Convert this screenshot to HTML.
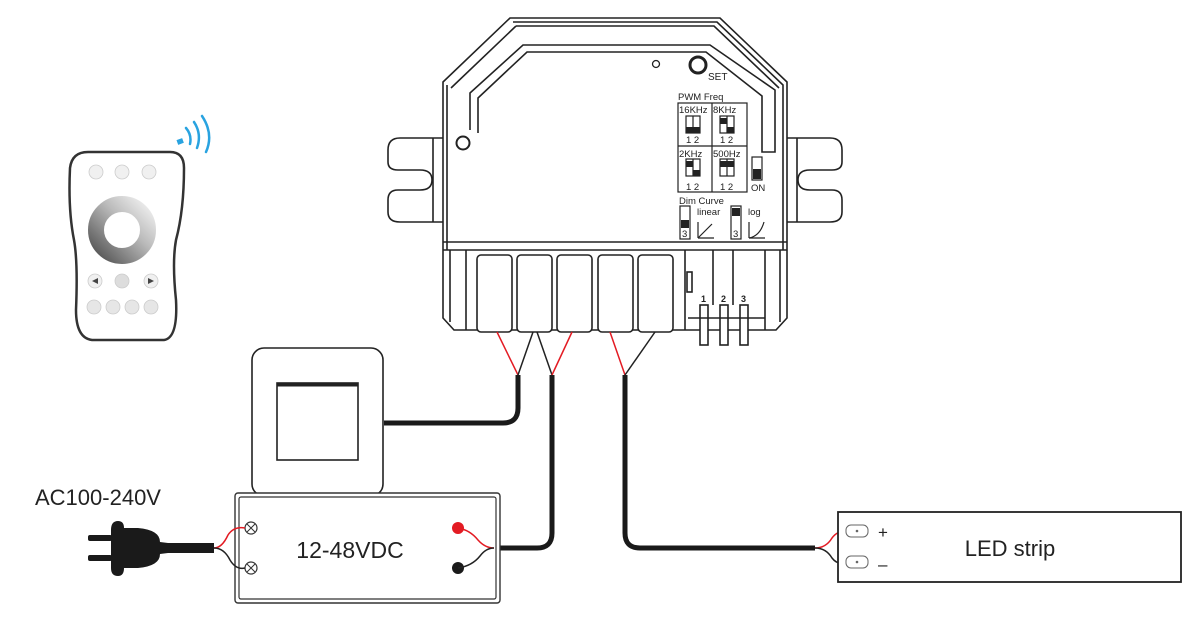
<!DOCTYPE html>
<html><head><meta charset="utf-8"><style>
html,body{margin:0;padding:0;background:#fff;}
svg{display:block;}
text{font-family:"Liberation Sans",sans-serif;}
</style></head><body>
<svg width="1200" height="643" viewBox="0 0 1200 643" xmlns="http://www.w3.org/2000/svg">
<defs>
<linearGradient id="ring" x1="0" y1="1" x2="1" y2="0"><stop offset="0" stop-color="#555"/><stop offset="0.6" stop-color="#bbb"/><stop offset="1" stop-color="#eee"/></linearGradient>
</defs>
<!-- ears -->
<g fill="#fff" stroke="#222" stroke-width="1.6">
<path d="M443 138 H400 Q388 138 388 150 V162 Q388 170 398 170 H420 Q432 170 432 180 Q432 190 420 190 H398 Q388 190 388 200 V212 Q388 222 400 222 H443"/>
<line x1="433" y1="138" x2="433" y2="222"/>
<path d="M787 138 H830 Q842 138 842 150 V162 Q842 170 832 170 H810 Q798 170 798 180 Q798 190 810 190 H832 Q842 190 842 200 V212 Q842 222 830 222 H787"/>
<line x1="797" y1="138" x2="797" y2="222"/>
</g>
<!-- body -->
<g fill="none" stroke="#222" stroke-width="1.6">
<path d="M510 18 H720 L787 82 V318 L776 330 H454 L443 318 V82 Z" fill="#fff"/>
<path d="M513 22 H717 L783 85 V250 M447 250 V85 Z" />
<path d="M516 26 H714 L779 88"/>
<path d="M516 26 L451 88"/>
<path d="M470 130 V93 L523 45 H710 L775 90 V152 H762 V96 L706 52 H527 L478 98 V133"/>
<line x1="443" y1="242" x2="787" y2="242"/>
<line x1="443" y1="250" x2="787" y2="250"/>
<line x1="450" y1="250" x2="450" y2="322"/>
<line x1="466" y1="250" x2="466" y2="330"/>
<line x1="780" y1="250" x2="780" y2="322"/>
<line x1="765" y1="250" x2="765" y2="330"/>
<line x1="685" y1="250" x2="685" y2="330"/>
<line x1="713" y1="250" x2="713" y2="305"/>
<line x1="733" y1="250" x2="733" y2="305"/>
<rect x="687" y="272" width="5" height="20"/>
</g>
<circle cx="463" cy="143" r="6.5" fill="#fff" stroke="#222" stroke-width="2"/>
<circle cx="656" cy="64" r="3.5" fill="none" stroke="#222" stroke-width="1.3"/>
<circle cx="698" cy="65" r="8" fill="#fff" stroke="#222" stroke-width="3"/>
<text x="708" y="80" font-size="10" fill="#222">SET</text>
<!-- terminal blocks -->
<g fill="#fff" stroke="#222" stroke-width="1.6">
<rect x="477" y="255" width="35" height="77" rx="4"/>
<rect x="517" y="255" width="35" height="77" rx="4"/>
<rect x="557" y="255" width="35" height="77" rx="4"/>
<rect x="598" y="255" width="35" height="77" rx="4"/>
<rect x="638" y="255" width="35" height="77" rx="4"/>
<rect x="700" y="305" width="8" height="40"/>
<rect x="720" y="305" width="8" height="40"/>
<rect x="740" y="305" width="8" height="40"/>
<line x1="688" y1="318" x2="765" y2="318"/>
</g>
<text x="701" y="302" font-size="9" font-weight="bold" fill="#222">1</text>
<text x="721" y="302" font-size="9" font-weight="bold" fill="#222">2</text>
<text x="741" y="302" font-size="9" font-weight="bold" fill="#222">3</text>
<!-- DIP -->
<text x="678" y="100" font-size="9.5" fill="#222">PWM Freq</text>
<g fill="none" stroke="#222" stroke-width="1.2">
<rect x="678" y="103" width="69" height="89"/>
<line x1="712" y1="103" x2="712" y2="192"/>
<line x1="678" y1="146" x2="747" y2="146"/>
<rect x="686" y="116" width="14" height="17"/><rect x="720" y="116" width="14" height="17"/>
<rect x="686" y="159" width="14" height="17"/><rect x="720" y="159" width="14" height="17"/>
<line x1="693" y1="116" x2="693" y2="133"/><line x1="727" y1="116" x2="727" y2="133"/>
<line x1="693" y1="159" x2="693" y2="176"/><line x1="727" y1="159" x2="727" y2="176"/>
<rect x="752" y="157" width="10" height="23"/>
<rect x="680" y="206" width="10" height="33"/>
<rect x="731" y="206" width="10" height="33"/>
<path d="M698 238 L712 224 M698 238 H714"/>
<path d="M749 238 Q760 236 764 222 M749 238 H765"/>
<line x1="749" y1="222" x2="749" y2="238"/>
<line x1="698" y1="222" x2="698" y2="238"/>
</g>
<g fill="#222">
<rect x="686" y="127" width="14" height="6"/>
<rect x="720" y="118" width="7" height="6"/><rect x="727" y="127" width="7" height="6"/>
<rect x="686" y="161" width="7" height="6"/><rect x="693" y="170" width="7" height="6"/>
<rect x="720" y="161" width="14" height="6"/>
<rect x="753" y="169" width="8" height="10"/>
<rect x="681" y="220" width="8" height="8"/>
<rect x="732" y="208" width="8" height="8"/>
</g>
<g font-size="9.5" fill="#222">
<text x="679" y="113">16KHz</text><text x="713" y="113">8KHz</text>
<text x="679" y="157">2KHz</text><text x="713" y="157">500Hz</text>
<text x="686" y="143">1 2</text><text x="720" y="143">1 2</text>
<text x="686" y="190">1 2</text><text x="720" y="190">1 2</text>
<text x="751" y="191">ON</text>
<text x="679" y="204">Dim Curve</text>
<text x="697" y="215">linear</text><text x="748" y="215">log</text>
<text x="682" y="237">3</text><text x="733" y="237">3</text>
</g>
<!-- wires -->
<g fill="none" stroke-width="1.5">
<path d="M497 332 L518 375" stroke="#e31b23"/>
<path d="M533 332 L518 375" stroke="#222"/>
<path d="M537 332 L552 375" stroke="#222"/>
<path d="M572 332 L552 375" stroke="#e31b23"/>
<path d="M610 332 L625 375" stroke="#e31b23"/>
<path d="M655 332 L625 375" stroke="#222"/>
</g>
<g fill="none" stroke="#1a1a1a" stroke-width="5">
<path d="M518 375 V408 Q518 423 503 423 H384"/>
<path d="M552 375 V533 Q552 548 537 548 H494"/>
<path d="M625 375 V533 Q625 548 640 548 H815"/>
</g>
<!-- switch -->
<rect x="252" y="348" width="131" height="148" rx="12" fill="#fff" stroke="#222" stroke-width="1.6"/>
<rect x="277" y="383" width="81" height="77" fill="none" stroke="#222" stroke-width="1.6"/>
<line x1="277" y1="385" x2="358" y2="385" stroke="#222" stroke-width="3"/>
<!-- PSU -->
<rect x="235" y="493" width="265" height="110" rx="3" fill="#fff" stroke="#333" stroke-width="1.4"/>
<rect x="239" y="497" width="257" height="102" rx="2" fill="none" stroke="#333" stroke-width="1.2"/>
<g fill="#fff" stroke="#333" stroke-width="1.2">
<circle cx="251" cy="528" r="6"/><circle cx="251" cy="568" r="6"/>
</g>
<path d="M247 524 L255 532 M255 524 L247 532 M247 564 L255 572 M255 564 L247 572" stroke="#333" stroke-width="1"/>
<circle cx="458" cy="528" r="6" fill="#e31b23"/>
<circle cx="458" cy="568" r="6" fill="#1a1a1a"/>
<g fill="none" stroke-width="1.5">
<path d="M214 548 Q222 548 228 535 Q234 526 245 528" stroke="#e31b23"/>
<path d="M214 548 Q224 548 230 560 Q236 570 245 568" stroke="#222"/>
<path d="M458 528 Q470 530 478 540 Q485 548 494 548" stroke="#e31b23"/>
<path d="M458 568 Q472 566 480 556 Q486 548 494 548" stroke="#222"/>
<path d="M815 548 Q826 548 832 538 Q838 530 848 531" stroke="#e31b23"/>
<path d="M815 548 Q826 548 832 558 Q838 566 848 562" stroke="#222"/>
</g>
<text x="350" y="558" font-size="23" fill="#222" text-anchor="middle">12-48VDC</text>
<!-- plug -->
<text x="35" y="505" font-size="22" fill="#222">AC100-240V</text>
<g fill="#1a1a1a">
<rect x="88" y="535" width="24" height="6" rx="2"/>
<rect x="88" y="555" width="24" height="6" rx="2"/>
<path d="M111 530 Q111 521 118 521 Q124 521 124 528 H138 Q160 530 160 542 L168 543 H214 V553 H168 L160 554 Q160 566 138 568 H124 Q124 576 118 576 Q111 576 111 568 Z"/>
</g>
<!-- LED strip -->
<rect x="838" y="512" width="343" height="70" fill="#fff" stroke="#222" stroke-width="1.8"/>
<rect x="846" y="525" width="22" height="12" rx="5" fill="#fff" stroke="#666" stroke-width="1"/>
<rect x="846" y="556" width="22" height="12" rx="5" fill="#fff" stroke="#666" stroke-width="1"/>
<circle cx="857" cy="531" r="1.3" fill="#666"/><circle cx="857" cy="562" r="1.3" fill="#666"/>
<text x="878" y="538" font-size="17" fill="#222">+</text>
<text x="878" y="570" font-size="17" fill="#222">–</text>
<text x="1010" y="556" font-size="22" fill="#222" text-anchor="middle">LED strip</text>
<!-- remote -->
<path d="M88 152 H170 Q184 152 184 168 Q184 210 176 240 Q172 262 176 300 Q178 338 164 340 H92 Q76 338 76 310 Q78 262 74 240 Q68 210 70 168 Q72 152 88 152 Z" fill="#fff" stroke="#333" stroke-width="2.5"/>
<g fill="#f0f0f0" stroke="#ccc" stroke-width="0.8">
<circle cx="96" cy="172" r="7"/><circle cx="122" cy="172" r="7"/><circle cx="149" cy="172" r="7"/>
<circle cx="95" cy="281" r="7"/><circle cx="122" cy="281" r="7" fill="#ddd"/><circle cx="151" cy="281" r="7"/>
<circle cx="94" cy="307" r="7" fill="#e6e6e6"/><circle cx="113" cy="307" r="7" fill="#e6e6e6"/><circle cx="132" cy="307" r="7" fill="#e6e6e6"/><circle cx="151" cy="307" r="7" fill="#e6e6e6"/>
</g>
<circle cx="122" cy="230" r="26" fill="none" stroke="url(#ring)" stroke-width="16"/>
<path d="M92 281 L98 278 V284 Z M154 281 L148 278 V284 Z" fill="#444"/>
<g fill="none" stroke="#29a3e0" stroke-width="2.5" stroke-linecap="round">
<path d="M186 128 Q192 135 190 144"/>
<path d="M194 122 Q202 134 197 148"/>
<path d="M202 116 Q214 134 206 152"/>
</g>
<rect x="177" y="139" width="6" height="5" fill="#29a3e0" transform="rotate(-20 180 141)"/>
</svg>
</body></html>
